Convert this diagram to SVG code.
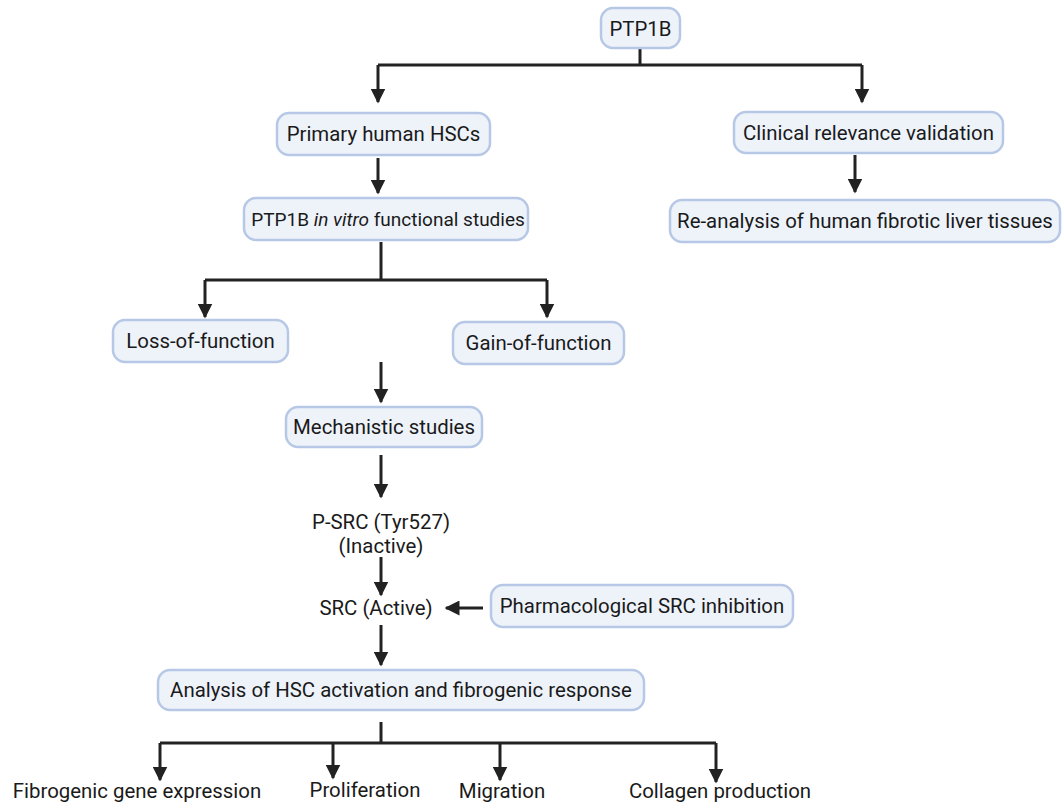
<svg xmlns="http://www.w3.org/2000/svg" width="1062" height="804" viewBox="0 0 1062 804">
<defs>
<style>
.box{fill:#eef3fa;stroke:#b7c8e6;stroke-width:2.5}
.t{font-family:Roboto,"Liberation Sans",sans-serif;font-size:20.4px;fill:#1a1a1a;text-anchor:middle}
.ln{fill:none;stroke:#222;stroke-width:3}
</style>
<marker id="ah" viewBox="0 0 10 10" refX="9" refY="5" markerWidth="5" markerHeight="5" markerUnits="strokeWidth" orient="auto">
<path d="M0,0 L10,5 L0,10 z" fill="#222"/>
</marker>
</defs>
<rect width="1062" height="804" fill="#fff"/>
<g id="connectors">
<path class="ln" d="M640,48 V65"/>
<path class="ln" d="M378,65 H862"/>
<path class="ln" d="M378,65 V102" marker-end="url(#ah)"/>
<path class="ln" d="M862,65 V102" marker-end="url(#ah)"/>
<path class="ln" d="M378,158 V193" marker-end="url(#ah)"/>
<path class="ln" d="M855,155 V192" marker-end="url(#ah)"/>
<path class="ln" d="M381,242 V280"/>
<path class="ln" d="M205,280 H547"/>
<path class="ln" d="M205,280 V317" marker-end="url(#ah)"/>
<path class="ln" d="M547,280 V317" marker-end="url(#ah)"/>
<path class="ln" d="M381,362 V402" marker-end="url(#ah)"/>
<path class="ln" d="M381,455 V497" marker-end="url(#ah)"/>
<path class="ln" d="M381,557 V595" marker-end="url(#ah)"/>
<path class="ln" d="M483,608 H446" marker-end="url(#ah)"/>
<path class="ln" d="M381,625 V665" marker-end="url(#ah)"/>
<path class="ln" d="M381,722 V743"/>
<path class="ln" d="M160,743 H716"/>
<path class="ln" d="M160,743 V780" marker-end="url(#ah)"/>
<path class="ln" d="M333,743 V778" marker-end="url(#ah)"/>
<path class="ln" d="M500,743 V780" marker-end="url(#ah)"/>
<path class="ln" d="M716,743 V782" marker-end="url(#ah)"/>
</g>
<g id="n-ptp1b"><rect class="box" x="601" y="8" width="79" height="40" rx="12"/><text class="t" x="640.5" y="36">PTP1B</text></g>
<g id="n-hsc"><rect class="box" x="277" y="113" width="213" height="42" rx="12"/><text class="t" x="383.5" y="141">Primary human HSCs</text></g>
<g id="n-clinical"><rect class="box" x="734" y="112" width="269" height="41" rx="12"/><text class="t" x="868.5" y="140">Clinical relevance validation</text></g>
<g id="n-reanalysis"><rect class="box" x="670" y="200" width="390" height="42" rx="12"/><text class="t" x="865" y="228">Re-analysis of human fibrotic liver tissues</text></g>
<g id="n-invitro"><rect class="box" x="244" y="198" width="284" height="42" rx="12"/><text class="t" x="388" y="226" style="font-size:19px">PTP1B <tspan font-style="italic">in vitro</tspan> functional studies</text></g>
<g id="n-loss"><rect class="box" x="113" y="320" width="175" height="42" rx="12"/><text class="t" x="200.5" y="348">Loss-of-function</text></g>
<g id="n-gain"><rect class="box" x="453" y="322" width="171" height="42" rx="12"/><text class="t" x="538.5" y="350">Gain-of-function</text></g>
<g id="n-mech"><rect class="box" x="286" y="407" width="196" height="40" rx="12"/><text class="t" x="384" y="434">Mechanistic studies</text></g>
<g id="n-psrc"><text class="t" x="381" y="529">P-SRC (Tyr527)</text><text class="t" x="381" y="553">(Inactive)</text></g>
<g id="n-src"><text class="t" x="376" y="615">SRC (Active)</text></g>
<g id="n-pharm"><rect class="box" x="491" y="585" width="302" height="42" rx="12"/><text class="t" x="642" y="613">Pharmacological SRC inhibition</text></g>
<g id="n-analysis"><rect class="box" x="158" y="670" width="486" height="40" rx="12"/><text class="t" x="401" y="697">Analysis of HSC activation and fibrogenic response</text></g>
<g id="n-fib"><text class="t" x="137" y="798">Fibrogenic gene expression</text></g>
<g id="n-prolif"><text class="t" x="365" y="797">Proliferation</text></g>
<g id="n-migr"><text class="t" x="502" y="798">Migration</text></g>
<g id="n-coll"><text class="t" x="720" y="798">Collagen production</text></g>
</svg>
